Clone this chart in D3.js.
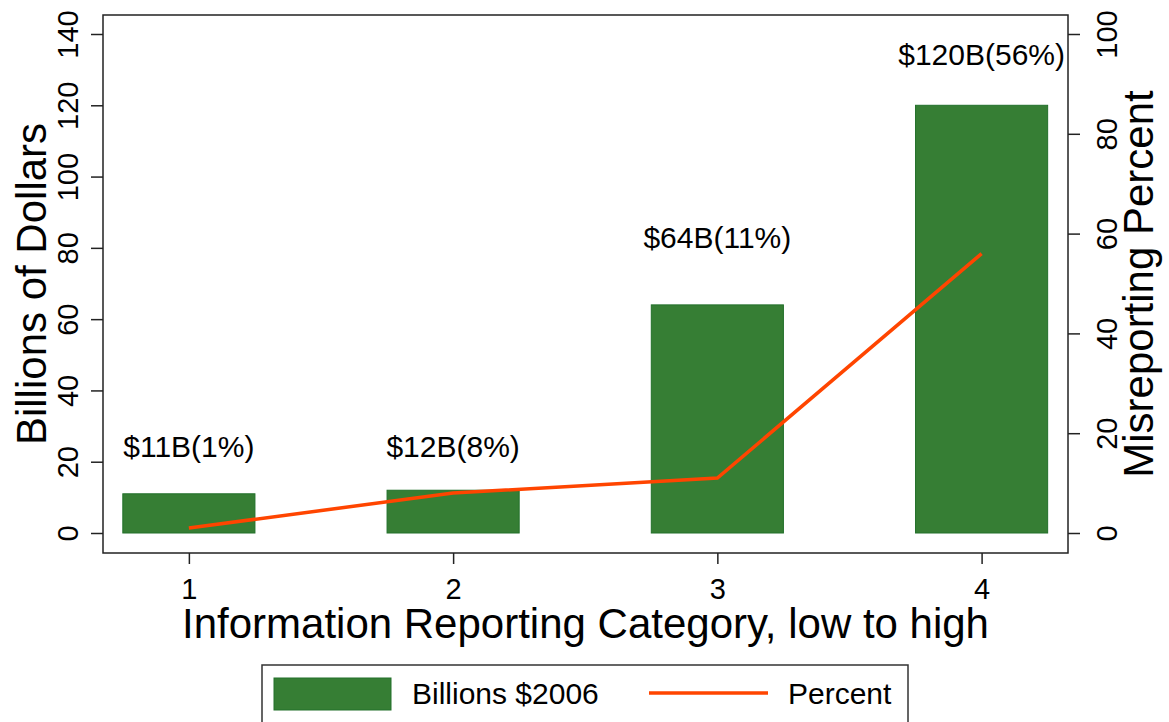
<!DOCTYPE html>
<meta charset="utf-8">
<style>
body { margin: 0; background: #fff; }
text { font-family: "Liberation Sans", Arial, sans-serif; fill: #000; }
.tick-label { font-size: 29px; }
.title { font-size: 42px; }
.bar-label { font-size: 30px; text-anchor: middle; }
.legend text { font-size: 30px; }
</style>
<svg width="1169" height="722"></svg>
<script src="https://cdn.jsdelivr.net/npm/d3@7"></script>
<script>

// chart data
var categories = [1, 2, 3, 4];
var billions = [11, 12, 64, 120];
var percent = [1, 8, 11, 56];
var barLabels = ["$11B(1%)", "$12B(8%)", "$64B(11%)", "$120B(56%)"];
var labelAt = [21.3, 21.3, 80, 131.3]; // label baselines, in billions
var leftTicks = [0, 20, 40, 60, 80, 100, 120, 140];
var rightTicks = [0, 20, 40, 60, 80, 100];

var svg = d3.select("svg");

var plotLeft = 103, plotRight = 1068, plotTop = 15, plotBottom = 553;

var x = d3.scaleLinear().domain([0.675, 4.327]).range([plotLeft, plotRight]);
var yL = d3.scaleLinear().domain([0, 140]).range([533, 34]);
var yR = d3.scaleLinear().domain([0, 100]).range([533, 34]);

var green = "#367e34", orange = "#ff4500";

// plot frame
svg.append("rect")
    .attr("x", plotLeft).attr("y", plotTop)
    .attr("width", plotRight - plotLeft).attr("height", plotBottom - plotTop)
    .attr("fill", "none").attr("stroke", "#222").attr("stroke-width", 1.5);

// bars
svg.selectAll(".bar")
    .data(categories)
  .enter().append("rect")
    .attr("class", "bar")
    .attr("x", function(d) { return x(d - 0.25); })
    .attr("width", function(d) { return x(d + 0.25) - x(d - 0.25); })
    .attr("y", function(d, i) { return yL(billions[i]); })
    .attr("height", function(d, i) { return yL(0) - yL(billions[i]); })
    .attr("fill", green)
    .attr("stroke", "#22702a")
    .attr("stroke-width", 1);

// percent line
var line = d3.line()
    .x(function(d) { return x(d); })
    .y(function(d, i) { return yR(percent[i]); });

svg.append("path")
    .datum(categories)
    .attr("d", line)
    .attr("fill", "none")
    .attr("stroke", orange)
    .attr("stroke-width", 3.5);

// bar labels
svg.selectAll(".bar-label")
    .data(categories)
  .enter().append("text")
    .attr("class", "bar-label")
    .attr("x", function(d) { return x(d); })
    .attr("y", function(d, i) { return yL(labelAt[i]); })
    .text(function(d, i) { return barLabels[i]; });

// left axis
svg.append("g")
    .attr("transform", "translate(" + plotLeft + ",0)")
    .call(d3.axisLeft(yL).tickValues(leftTicks).tickSize(12).tickPadding(0).tickFormat(d3.format("d")))
    .call(function(g) {
      g.select(".domain").remove();
      g.selectAll("line").attr("stroke", "#222").attr("stroke-width", 1.5);
      g.selectAll("text")
          .attr("class", "tick-label")
          .attr("x", null).attr("dy", null)
          .attr("text-anchor", "middle")
          .attr("transform", "translate(-25,0) rotate(-90)")
          .attr("y", 0);
    });

// right axis
svg.append("g")
    .attr("transform", "translate(" + plotRight + ",0)")
    .call(d3.axisRight(yR).tickValues(rightTicks).tickSize(12).tickPadding(0).tickFormat(d3.format("d")))
    .call(function(g) {
      g.select(".domain").remove();
      g.selectAll("line").attr("stroke", "#222").attr("stroke-width", 1.5);
      g.selectAll("text")
          .attr("class", "tick-label")
          .attr("x", null).attr("dy", null)
          .attr("text-anchor", "middle")
          .attr("transform", "translate(49,0) rotate(-90)")
          .attr("y", 0);
    });

// bottom axis
svg.append("g")
    .attr("transform", "translate(0," + plotBottom + ")")
    .call(d3.axisBottom(x).tickValues(categories).tickSize(11).tickPadding(0).tickFormat(d3.format("d")))
    .call(function(g) {
      g.select(".domain").remove();
      g.selectAll("line").attr("stroke", "#222").attr("stroke-width", 1.5);
      g.selectAll("text")
          .attr("class", "tick-label")
          .attr("dy", null)
          .attr("y", 46);
    });

// axis titles
var midY = (plotTop + plotBottom) / 2;

svg.append("text")
    .attr("class", "title")
    .attr("text-anchor", "middle")
    .attr("transform", "translate(46," + midY + ") rotate(-90)")
    .text("Billions of Dollars");

svg.append("text")
    .attr("class", "title")
    .attr("text-anchor", "middle")
    .attr("transform", "translate(1153," + midY + ") rotate(-90)")
    .text("Misreporting Percent");

svg.append("text")
    .attr("class", "title")
    .attr("text-anchor", "middle")
    .attr("x", (plotLeft + plotRight) / 2)
    .attr("y", 638)
    .text("Information Reporting Category, low to high");

// legend
var legend = svg.append("g").attr("class", "legend");

legend.append("rect")
    .attr("x", 262).attr("y", 665)
    .attr("width", 646).attr("height", 80)
    .attr("fill", "#fff").attr("stroke", "#333").attr("stroke-width", 1.5);

legend.append("rect")
    .attr("x", 274).attr("y", 678)
    .attr("width", 117).attr("height", 32)
    .attr("fill", green).attr("stroke", "#22702a").attr("stroke-width", 1);

legend.append("text")
    .attr("x", 412).attr("y", 704)
    .text("Billions $2006");

legend.append("line")
    .attr("x1", 649).attr("x2", 768)
    .attr("y1", 693).attr("y2", 693)
    .attr("stroke", orange).attr("stroke-width", 3.5);

legend.append("text")
    .attr("x", 788).attr("y", 704)
    .text("Percent");

</script>
